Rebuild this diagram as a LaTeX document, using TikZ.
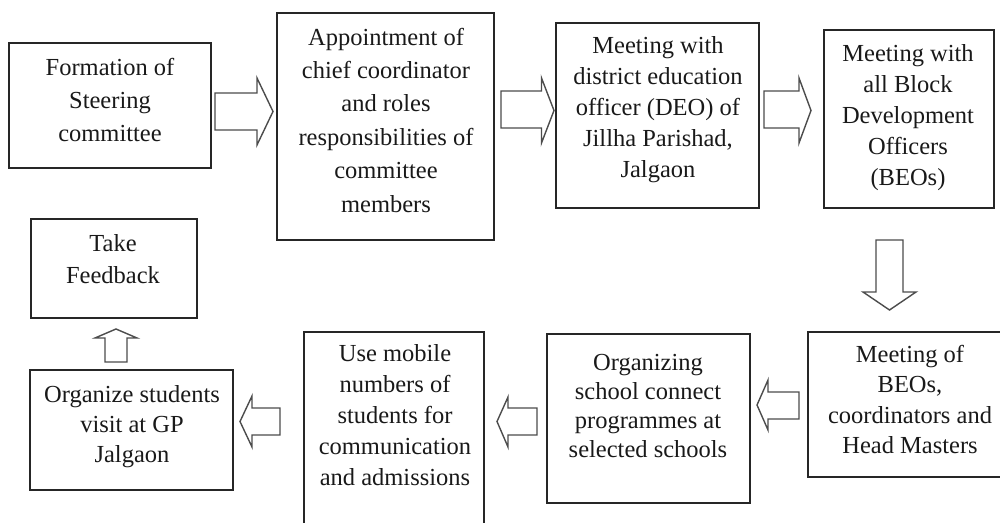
\documentclass[tikz,border=0pt]{standalone}
\usepackage{fontspec}
\setmainfont{Liberation Serif}
\begin{document}
\begin{tikzpicture}[x=1pt,y=-1pt,
  box/.style={draw=black!85, line width=1.3pt},
  lbl/.style={align=center, inner sep=0pt, anchor=base, text=black!90, font=\fontsize{24.5}{#1}\selectfont},
  lbl/.default=31,
  barrow/.style={draw=black!70, line width=1.4pt, fill=white, line join=miter}]
\useasboundingbox (0,0) rectangle (1000,522);
% boxes
\draw[box] (9,43) rectangle (211,168);
\draw[box] (277,13) rectangle (494,240);
\draw[box] (556,23) rectangle (759,208);
\draw[box] (824,30) rectangle (994,208);
\draw[box] (808,332) rectangle (1003,477);
\draw[box] (547,334) rectangle (750,503);
\draw[box] (304,332) rectangle (484,530);
\draw[box] (30,370) rectangle (233,490);
\draw[box] (31,219) rectangle (197,318);
% labels (anchor = baseline of the last line)
\node[lbl=33] (t1) at (110,141) {Formation of\\Steering\\committee};
\node[lbl=33.4] (t2) at (386,212) {Appointment of\\chief coordinator\\and roles\\responsibilities of\\committee\\members};
\node[lbl=30.8] (t3) at (658,177) {Meeting with\\district education\\officer (DEO) of\\Jillha Parishad,\\Jalgaon};
\node[lbl=30.8] (t4) at (908,185) {Meeting with\\all Block\\Development\\Officers\\(BEOs)};
\node[lbl=30.5] (t5) at (910,453.5) {Meeting of\\BEOs,\\coordinators and\\Head Masters};
\node[lbl=29] (t6) at (648,457) {Organizing\\school connect\\programmes at\\selected schools};
\node[lbl=30.8] (t7) at (395,485) {Use mobile\\numbers of\\students for\\communication\\and admissions};
\node[lbl=30] (t8) at (132,462) {Organize students\\visit at GP\\Jalgaon};
\node[lbl=31.7] (t9) at (113,283.5) {Take\\Feedback};
% block arrows
\draw[barrow] (215,93)--(257,93)--(257,78)--(273,111.5)--(257,145)--(257,130)--(215,130)--cycle;
\draw[barrow] (501,91)--(541.5,91)--(541.5,78)--(554,110.5)--(541.5,143)--(541.5,128)--(501,128)--cycle;
\draw[barrow] (764,91)--(799,91)--(799,78)--(811,110.5)--(799,143)--(799,128)--(764,128)--cycle;
\draw[barrow] (876,240)--(903,240)--(903,292)--(916,292)--(889.5,310)--(863,292)--(876,292)--cycle;
\draw[barrow] (799,392)--(768,392)--(768,380)--(757,405)--(768,430)--(768,419)--(799,419)--cycle;
\draw[barrow] (537,408)--(508,408)--(508,397)--(497,421.5)--(508,447)--(508,435)--(537,435)--cycle;
\draw[barrow] (280,408)--(252,408)--(252,396)--(240,421.5)--(252,447)--(252,435)--(280,435)--cycle;
\draw[barrow] (105,362)--(105,338)--(95,338)--(116,329)--(137,338)--(127,338)--(127,362)--cycle;
\end{tikzpicture}
\end{document}
